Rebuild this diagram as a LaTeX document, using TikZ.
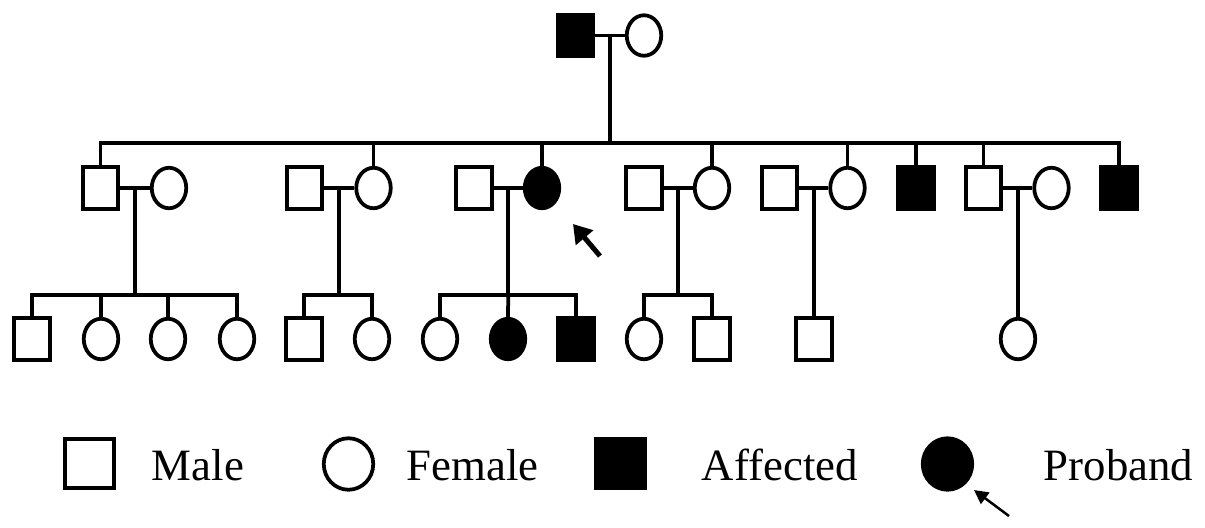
\documentclass[tikz,border=0pt]{standalone}
\usepackage{fontspec}
\setmainfont{Liberation Serif}
\usetikzlibrary{shapes.geometric,arrows.meta,calc}

\tikzset{
 male/.style={draw, rectangle, minimum width=0.71cm, minimum height=0.83cm, inner sep=0pt},
 female/.style={draw, ellipse, minimum width=0.69cm, minimum height=0.81cm, inner sep=0pt},
 affected/.style={fill=black},
 keymale/.style={draw, rectangle, minimum size=0.99cm, inner sep=0pt},
 keyfemale/.style={draw, ellipse, minimum width=0.99cm, minimum height=1.03cm, inner sep=0pt},
 keytext/.style={anchor=base west, inner sep=0pt, font=\fontsize{25.5}{30}\selectfont},
}

\begin{document}
\begin{tikzpicture}[x=0.02cm, y=-0.02cm, line width=0.075cm]
\useasboundingbox (0,0) rectangle (1205,528);

% generation I
\node[male, affected] (I1) at (575.5,35.5) {};
\node[female] (I2) at (644,35.5) {};

% generation II
\node[male] (II1) at (100.5,188) {};
\node[female] (II2) at (169,188) {};
\node[male] (II3) at (304.5,188) {};
\node[female] (II4) at (373.5,188) {};
\node[male] (II5) at (474,188) {};
\node[female, affected] (II6) at (542,188) {};
\node[male] (II7) at (644,188) {};
\node[female] (II8) at (712,188) {};
\node[male] (II9) at (779.5,188) {};
\node[female] (II10) at (847.5,188) {};
\node[male, affected] (II11) at (916,188) {};
\node[male] (II12) at (983.5,188) {};
\node[female] (II13) at (1051.5,188) {};
\node[male, affected] (II14) at (1119,188) {};

% generation III
\node[male] (III1) at (32,339) {};
\node[female] (III2) at (101,339) {};
\node[female] (III3) at (168,339) {};
\node[female] (III4) at (237,339) {};
\node[male] (III5) at (304,339) {};
\node[female] (III6) at (372,339) {};
\node[female] (III7) at (440,339) {};
\node[female, affected] (III8) at (508,339) {};
\node[male, affected] (III9) at (576,339) {};
\node[female] (III10) at (644,339) {};
\node[male] (III11) at (712,339) {};
\node[male] (III12) at (814,339) {};
\node[female] (III13) at (1018,339) {};

% marriages
\draw (I1.east) -- (I2.west);
\draw (II1.east) -- (II2.west);
\draw (II3.east) -- (II4.west);
\draw (II5.east) -- (II6.west);
\draw (II7.east) -- (II8.west);
\draw (II9.east) -- (II10.west);
\draw (II12.east) -- (II13.west);

\coordinate (m0) at ($(I1.east)!0.5!(I2.west)$);
\coordinate (m1) at ($(II1.east)!0.5!(II2.west)$);
\coordinate (m2) at ($(II3.east)!0.5!(II4.west)$);
\coordinate (m3) at ($(II5.east)!0.5!(II6.west)$);
\coordinate (m4) at ($(II7.east)!0.5!(II8.west)$);
\coordinate (m5) at ($(II9.east)!0.5!(II10.west)$);
\coordinate (m6) at ($(II12.east)!0.5!(II13.west)$);

% sibships
\draw (m0) -- (m0 |- 0,143) coordinate (s0);
\draw (II1.north) |- (s0) -| (II14.north);
\foreach \kid in {II4,II6,II8,II10,II11,II12} {
 \draw (\kid.north) -- (\kid.north |- s0);
}

\draw (m1) -- (m1 |- 0,295) coordinate (s1);
\draw (III1.north) |- (s1) -| (III4.north);
\draw (III2.north) -- (III2.north |- s1);
\draw (III3.north) -- (III3.north |- s1);

\draw (m2) -- (m2 |- 0,295) coordinate (s2);
\draw (III5.north) |- (s2) -| (III6.north);

\draw (m3) -- (m3 |- 0,295) coordinate (s3);
\draw (III7.north) |- (s3) -| (III9.north);
\draw (III8.north) -- (s3);

\draw (m4) -- (m4 |- 0,295) coordinate (s4);
\draw (III10.north) |- (s4) -| (III11.north);

\draw (m5) -- (m5 |- III12.north);
\draw (m6) -- (m6 |- III13.north);

% proband arrow
\coordinate (pfrom) at (600,256);
\coordinate (pto) at (573,224);
\draw[line width=0.1cm, -{Triangle[length=0.36cm,width=0.44cm]}] (pfrom) -- (pto);

% key
\node[keymale] (kmale) at (89.5,463.5) {};
\node[keytext] (tmale) at (150,480) {Male};
\node[keyfemale] (kfemale) at (348.5,464) {};
\node[keytext] (tfemale) at (405,480) {Female};
\node[keymale, affected] (kaff) at (620.5,463.5) {};
\node[keytext] (taff) at (700,480) {Affected};
\node[keyfemale, affected] (kpro) at (947.5,464) {};
\node[keytext] (tpro) at (1042,480) {Proband};

\coordinate (kfrom) at (1009,516);
\coordinate (kto) at (974,490);
\draw[line width=0.05cm, -{Triangle[length=0.28cm,width=0.28cm]}] (kfrom) -- (kto);
\end{tikzpicture}
\end{document}
